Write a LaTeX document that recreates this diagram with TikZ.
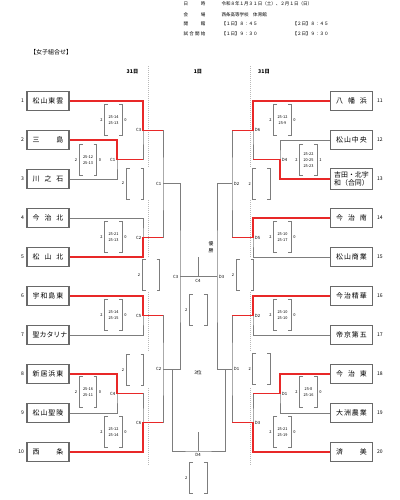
\documentclass[tikz,border=0pt]{standalone}
\usepackage{fontspec}
\setmainfont{Noto Sans CJK JP}
\usetikzlibrary{positioning}

\definecolor{winred}{RGB}{232,40,40}
\definecolor{linegray}{RGB}{125,125,125}
\definecolor{boxgray}{RGB}{105,105,105}

\tikzset{every picture/.style={line width=0.75pt}}
\tikzset{
  team/.style={draw=boxgray, line width=0.8pt, fill=white, minimum width=31.5pt, minimum height=14.25pt, inner sep=0pt, font=\fontsize{5.2}{6}\selectfont},
  num/.style={inner sep=0pt, font=\fontsize{3.8}{4.5}\selectfont},
  lbl/.style={inner sep=0.5pt, font=\fontsize{3.2}{4}\selectfont},
  sc/.style={minimum width=12.5pt, minimum height=22.5pt, inner sep=0pt, align=center, font=\fontsize{2.9}{4.3}\selectfont},
  setn/.style={inner sep=0pt, font=\fontsize{3}{4}\selectfont},
  loss/.style={draw=linegray, line width=0.7pt},
  win/.style={draw=winred, line width=1.1pt},
  brk/.style={draw=linegray, line width=0.6pt},
  sep/.style={draw=gray!55, line width=0.5pt, densely dotted},
  head/.style={inner sep=0pt, anchor=west, font=\fontsize{3.4}{4}\selectfont},
  day/.style={inner sep=0pt, font=\fontsize{3.9}{4.5}\selectfont\bfseries},
}

\newcommand{\tn}[1]{\makebox[23pt][s]{#1}}
\newcommand{\scorebox}[5]{%
  \node[sc] (#1) at (#2) {#4};
  \draw[brk] ([xshift=2.5pt]#1.north west) -- (#1.north west) -- (#1.south west) -- ([xshift=2.5pt]#1.south west);
  \draw[brk] ([xshift=-2.5pt]#1.north east) -- (#1.north east) -- (#1.south east) -- ([xshift=-2.5pt]#1.south east);
  \node[setn, left=1.2pt of #1] (#1a) {#3};
  \node[setn, right=1.2pt of #1] (#1b) {#5};
}
\newcommand{\emptybox}[3]{%
  \node[sc] (#1) at (#2) {};
  \draw[brk] ([xshift=2.5pt]#1.north west) -- (#1.north west) -- (#1.south west) -- ([xshift=2.5pt]#1.south west);
  \draw[brk] ([xshift=-2.5pt]#1.north east) -- (#1.north east) -- (#1.south east) -- ([xshift=-2.5pt]#1.south east);
  \node[setn, left=1.2pt of #1] (#1a) {#3};
}

\begin{document}
\begin{tikzpicture}[x=0.75pt,y=0.75pt,yscale=-1,xscale=1]
\fill[white] (0,0) rectangle (400,500);
\useasboundingbox (0,0) rectangle (400,500);

% Header
\node[head] (hk1) at (183,4) {\makebox[16.5pt][s]{日\hfill 時}};
\node[head] (hv1) at (221,4) {令和８年１月３１日（土）、２月１日（日）};
\node[head] (hk2) at (183,14.5) {\makebox[16.5pt][s]{会\hfill 場}};
\node[head] (hv2) at (221,14.5) {西条高等学校　体育館};
\node[head] (hk3) at (183,24) {\makebox[16.5pt][s]{開\hfill 館}};
\node[head] (hv3) at (221,24) {【１日】８：４５};
\node[head] (hw3) at (292,24) {【２日】８：４５};
\node[head] (hk4) at (183,33.5) {\makebox[16.5pt][s]{試\hfill 合\hfill 開\hfill 始}};
\node[head] (hv4) at (221,33.5) {【１日】９：３０};
\node[head] (hw4) at (292,33.5) {【２日】９：３０};
\node[inner sep=0pt, font=\fontsize{4.5}{5}\selectfont] (title) at (51,52.5) {【女子組合せ】};

% Days
\node[day] (d31l) at (132.5,72) {31日};
\node[day] (d1) at (198,72) {1日};
\node[day] (d31r) at (264,72) {31日};

%Dotted separators
\foreach \x in {148,250}{
  \draw[sep] (\x,66) -- (\x,167);
  \draw[sep] (\x,200) -- (\x,258);
  \draw[sep] (\x,292) -- (\x,351);
  \draw[sep] (\x,388) -- (\x,466);
}

%Teams left
\node[team] (t1) at (48,101) {\tn{松\hfill 山\hfill 東\hfill 雲}};
\node[team] (t2) at (48,140) {\tn{三\hfill 島}};
\node[team] (t3) at (48,179) {\tn{川\hfill 之\hfill 石}};
\node[team] (t4) at (48,218) {\tn{今\hfill 治\hfill 北}};
\node[team] (t5) at (48,257) {\tn{松\hfill 山\hfill 北}};
\node[team] (t6) at (48,296) {\tn{宇\hfill 和\hfill 島\hfill 東}};
\node[team] (t7) at (48,335) {\tn{聖\hfill カ\hfill タ\hfill リ\hfill ナ}};
\node[team] (t8) at (48,374) {\tn{新\hfill 居\hfill 浜\hfill 東}};
\node[team] (t9) at (48,413) {\tn{松\hfill 山\hfill 聖\hfill 陵}};
\node[team] (t10) at (48,452) {\tn{西\hfill 条}};
%Teams right
\node[team] (t11) at (351.5,101) {\tn{八\hfill 幡\hfill 浜}};
\node[team] (t12) at (351.5,140) {\tn{松\hfill 山\hfill 中\hfill 央}};
\node[team, align=left, minimum height=15.75pt] (t13) at (351.5,179) {吉田・北宇\\和（合同）};
\node[team] (t14) at (351.5,218) {\tn{今\hfill 治\hfill 南}};
\node[team] (t15) at (351.5,257) {\tn{松\hfill 山\hfill 商\hfill 業}};
\node[team] (t16) at (351.5,296) {\tn{今\hfill 治\hfill 精\hfill 華}};
\node[team] (t17) at (351.5,335) {\tn{帝\hfill 京\hfill 第\hfill 五}};
\node[team] (t18) at (351.5,374) {\tn{今\hfill 治\hfill 東}};
\node[team] (t19) at (351.5,413) {\tn{大\hfill 洲\hfill 農\hfill 業}};
\node[team] (t20) at (351.5,452) {\tn{済\hfill 美}};

%Numbers
\foreach \i/\y in {1/101,2/140,3/179,4/218,5/257,6/296,7/335,8/374,9/413,10/452}{
  \node[num, anchor=east] (n\i) at (24.5,\y) {\i};
}
\foreach \i/\y in {11/101,12/140,13/179,14/218,15/257,16/296,17/335,18/374,19/413,20/452}{
  \node[num, anchor=west] (n\i) at (376.5,\y) {\i};
}

%Junctions
\coordinate (jc1) at (117,159.5);
\coordinate (jc3) at (143,130.25);
\coordinate (jc2) at (143,237.5);
\coordinate (jc5) at (143,315.5);
\coordinate (jc4) at (117,393.5);
\coordinate (jc6) at (143,422.75);
\coordinate (kc1) at (163,183.9);
\coordinate (kc2) at (163,369.1);
\coordinate (kc3) at (180,276.5);
\coordinate (jd4) at (280,159.5);
\coordinate (jd6) at (253,130.25);
\coordinate (jd5) at (253,237.5);
\coordinate (jd2) at (253,315.5);
\coordinate (jd1) at (280,393.5);
\coordinate (jd3) at (253,422.75);
\coordinate (kd2) at (232,183.9);
\coordinate (kd1) at (232,369.1);
\coordinate (kd3) at (217,276.5);
\coordinate (fin) at (198,276.5);
\coordinate (fintop) at (198,257);
\coordinate (thl) at (172,369.1);
\coordinate (thr) at (225,369.1);
\coordinate (thm) at (198,451);
\coordinate (thtop) at (198,432);

%Bracket lines left
\draw[loss] (t2.east) -| (jc1) |- (t3.east);
\draw[loss] (t1.east) -| (jc3) |- (jc1);
\draw[loss] (t4.east) -| (jc2) |- (t5.east);
\draw[loss] (t6.east) -| (jc5) |- (t7.east);
\draw[loss] (t8.east) -| (jc4) |- (t9.east);
\draw[loss] (jc4) -| (jc6) |- (t10.east);
\draw[loss] (jc3) -| (kc1) |- (jc2);
\draw[loss] (jc5) -| (kc2) |- (jc6);
\draw[loss] (kc1) -| (kc3) |- (kc2);
%Bracket lines right
\draw[loss] (t12.west) -| (jd4) |- (t13.west);
\draw[loss] (t11.west) -| (jd6) |- (jd4);
\draw[loss] (t14.west) -| (jd5) |- (t15.west);
\draw[loss] (t16.west) -| (jd2) |- (t17.west);
\draw[loss] (t18.west) -| (jd1) |- (t19.west);
\draw[loss] (jd1) -| (jd3) |- (t20.west);
\draw[loss] (jd6) -| (kd2) |- (jd5);
\draw[loss] (jd2) -| (kd1) |- (jd3);
\draw[loss] (kd2) -| (kd3) |- (kd1);
%Final and 3rd place
\draw[loss] (kc3) -- (kd3);
\draw[loss] (fintop) -- (fin);
\draw[loss] (thl) |- (thm) -| (thr);
\draw[loss] (thtop) -- (thm);

%Winners
\draw[win] (t1.east) -| (jc3) -- (jc3 -| kc1);
\draw[win] (t2.east) -| (jc1) -- (jc1 -| jc3);
\draw[win] (t5.east) -| (jc2) -- (jc2 -| kc1);
\draw[win] (t6.east) -| (jc5) -- (jc5 -| kc2);
\draw[win] (t8.east) -| (jc4) -- (jc4 -| jc6);
\draw[win] (t10.east) -| (jc6) -- (jc6 -| kc2);
\draw[win] (t11.west) -| (jd6) -- (jd6 -| kd2);
\draw[win] (t13.west) -| (jd4) -- (jd4 -| jd6);
\draw[win] (t14.west) -| (jd5) -- (jd5 -| kd2);
\draw[win] (t16.west) -| (jd2) -- (jd2 -| kd1);
\draw[win] (t18.west) -| (jd1) -- (jd1 -| jd3);
\draw[win] (t20.west) -| (jd3) -- (jd3 -| kd1);

%Match labels
\node[lbl, left=0.5pt of jc1] (lc1) {C1};
\node[lbl, left=0.5pt of jc3] (lc3) {C3};
\node[lbl, left=0.5pt of jc2] (lc2) {C2};
\node[lbl, left=0.5pt of jc5] (lc5) {C5};
\node[lbl, left=0.5pt of jc4] (lc4) {C4};
\node[lbl, left=0.5pt of jc6] (lc6) {C6};
\node[lbl, left=0.5pt of kc1] (mc1) {C1};
\node[lbl, left=0.5pt of kc2] (mc2) {C2};
\node[lbl, left=0.5pt of kc3] (mc3) {C3};
\node[lbl, below=1pt of fin] (mc4) {C4};
\node[lbl, right=0.5pt of jd6] (ld6) {D6};
\node[lbl, right=0.5pt of jd4] (ld4) {D4};
\node[lbl, right=0.5pt of jd5] (ld5) {D5};
\node[lbl, right=0.5pt of jd2] (ld2) {D2};
\node[lbl, right=0.5pt of jd1] (ld1) {D1};
\node[lbl, right=0.5pt of jd3] (ld3) {D3};
\node[lbl, right=0.5pt of kd2] (md2) {D2};
\node[lbl, right=0.5pt of kd1] (md1) {D1};
\node[lbl, right=0.5pt of kd3] (md3) {D3};
\node[lbl, below=1pt of thm] (md4) {D4};
\node[lbl, align=center, font=\fontsize{3.6}{5.2}\selectfont] (champ) at (211,247) {優\\勝};
\node[lbl, font=\fontsize{3.6}{4.5}\selectfont] (third) at (198,373) {3位};

%Scores
\scorebox{s3}{113.5,120}{2}{25-14\\25-13}{0}
\scorebox{s1}{88,160}{2}{25-12\\25-13}{0}
\scorebox{s2}{113.5,237}{2}{25-21\\25-13}{0}
\scorebox{s5}{113.5,315}{2}{25-14\\25-15}{0}
\scorebox{s4}{88,392}{2}{25-16\\25-11}{0}
\scorebox{s6}{113.5,432}{2}{25-12\\25-14}{0}
\scorebox{r6}{282.5,120}{2}{25-12\\25-9}{0}
\scorebox{r4}{308.5,160}{2}{25-22\\20-25\\25-23}{1}
\scorebox{r5}{282.5,237}{2}{25-10\\25-17}{0}
\scorebox{r2}{282.5,315}{2}{25-10\\25-10}{0}
\scorebox{r1}{308.5,392}{2}{25-8\\25-16}{0}
\scorebox{r3}{282.5,432}{2}{25-21\\25-19}{0}
\emptybox{e1}{135,183.5}{2}
\emptybox{e2}{135,370}{2}
\emptybox{e3}{151,275}{2}
\emptybox{e4}{198.3,310}{2}
\emptybox{e5}{198.3,478}{2}
\emptybox{f2}{261.7,184}{2}
\emptybox{f3}{245,275}{2}
\emptybox{f1}{261.7,369}{2}

\end{tikzpicture}
\end{document}
